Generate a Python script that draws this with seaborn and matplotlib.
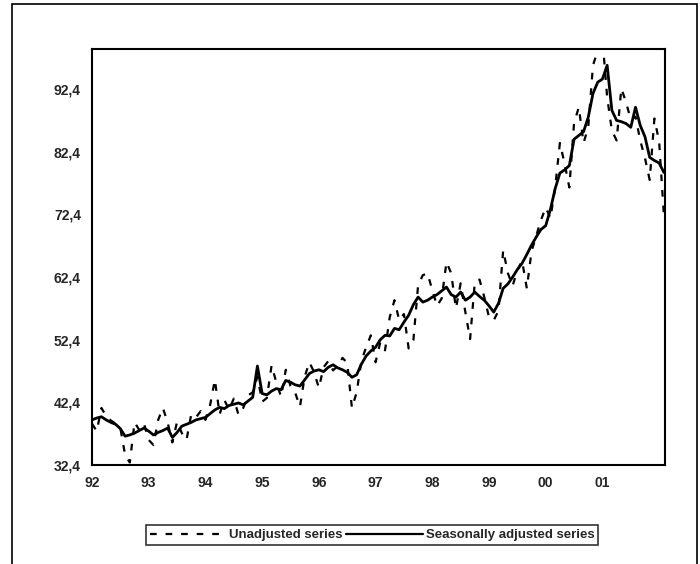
import numpy as np
import pandas as pd
import matplotlib
matplotlib.use("Agg")
import matplotlib.pyplot as plt
import seaborn as sns
from matplotlib.patches import Rectangle
from matplotlib.ticker import FuncFormatter

# monthly series, Jan 1992 - Feb 2002
adjusted = [
    39.6, 39.9, 40.1, 39.6, 39.2, 38.9, 38.2, 37.0, 37.2, 37.5, 37.9, 38.3,
    37.8, 37.2, 37.6, 37.9, 38.3, 36.8, 37.6, 38.6, 38.9, 39.2, 39.6, 39.8,
    40.0, 40.6, 41.2, 41.6, 41.4, 41.9, 42.1, 42.3, 42.0, 42.6, 43.2, 48.2,
    43.8, 43.6, 44.2, 44.6, 44.4, 45.9, 45.6, 45.2, 45.0, 46.0, 47.0, 47.4,
    47.6, 47.3, 48.0, 48.4, 47.9, 47.6, 47.2, 46.4, 46.8, 48.5, 49.8, 50.6,
    51.2, 52.4, 53.1, 53.0, 54.2, 54.0, 55.2, 56.3, 58.0, 59.2, 58.4, 58.7,
    59.2, 59.6, 60.2, 60.8, 59.6, 59.2, 60.0, 58.7, 59.2, 60.0, 59.3, 58.7,
    57.8, 56.8, 58.2, 60.6, 61.3, 62.4, 63.6, 64.6, 66.0, 67.5, 68.8, 70.0,
    70.6, 73.2, 76.5, 79.0, 79.5, 80.2, 84.4, 85.0, 85.6, 87.9, 91.7, 93.5,
    94.0, 96.2, 89.0, 87.4, 87.2, 86.9, 86.3, 89.5, 86.6, 84.8, 81.5, 81.0,
    80.6, 79.1,
]
unadjusted = [
    39.0, 37.8, 41.5, 40.2, 39.5, 39.0, 38.3, 34.0, 32.8, 39.2, 38.0, 39.0,
    36.4, 35.6, 39.6, 41.5, 39.2, 36.0, 39.3, 37.5, 36.4, 40.5, 40.0, 41.0,
    39.6, 42.0, 46.0, 40.5, 42.8, 41.2, 43.0, 40.4, 41.5, 43.5, 44.0, 46.5,
    42.5, 43.1, 48.3, 45.6, 43.3, 47.6, 45.0, 43.9, 41.7, 46.5, 48.8, 47.2,
    44.7, 48.0, 49.0, 47.5, 48.2, 49.5, 48.7, 41.5, 44.0, 49.0, 51.2, 53.1,
    48.8, 52.0, 50.7, 56.0, 58.7, 55.5, 56.5, 51.0, 52.3, 61.1, 62.7, 63.0,
    60.3, 57.8, 59.0, 64.8, 63.0, 57.4, 61.4, 56.8, 52.5, 61.6, 62.0, 59.2,
    56.0, 55.5, 57.0, 66.7, 63.0, 61.0, 63.5, 65.0, 60.6, 66.5, 69.0, 71.5,
    73.5, 71.8, 76.7, 83.8, 80.5, 76.7, 87.0, 89.5, 83.8, 86.3, 96.2, 98.5,
    100.5, 91.1, 85.8, 84.2, 92.5, 90.3, 87.5, 88.0, 84.2, 81.4, 77.9, 87.7,
    84.0, 72.3,
]
year_ticks = [1992, 1993, 1994, 1995, 1996, 1997, 1998, 1999, 2000, 2001]
year_labels = ["92", "93", "94", "95", "96", "97", "98", "99", "00", "01"]
y_ticks = [32.4, 42.4, 52.4, 62.4, 72.4, 82.4, 92.4]

years = 1992 + np.arange(len(adjusted)) / 12
df = pd.DataFrame({
    "year": np.concatenate([years, years]),
    "value": unadjusted + adjusted,
    "series": ["Unadjusted series"] * len(years) + ["Seasonally adjusted series"] * len(years),
})

sns.set_style("white")
plt.rcParams["font.family"] = ["Liberation Sans", "DejaVu Sans"]

fig = plt.figure(figsize=(7, 5.64), dpi=100)
ax = fig.add_axes([92 / 700, 1 - 465 / 564, (665 - 92) / 700, (465 - 49) / 564])

sns.lineplot(data=df, x="year", y="value", hue="series", style="series",
             palette=["black", "black"],
             dashes={"Unadjusted series": (3, 4), "Seasonally adjusted series": ""},
             size="series", sizes={"Unadjusted series": 1.6, "Seasonally adjusted series": 2.0},
             ax=ax, legend=False)

ax.set_xlim(1992, years[-1] + 0.02)
ax.set_ylim(32.4, 98.8)
ax.set_xticks(year_ticks)
ax.set_xticklabels(year_labels)
ax.set_yticks(y_ticks)
ax.yaxis.set_major_formatter(FuncFormatter(lambda v, p: f"{v:.1f}".replace(".", ",")))
ax.set_xlabel("")
ax.set_ylabel("")
for s in ax.spines.values():
    s.set_color("black")
    s.set_linewidth(1.5)
ax.tick_params(axis="both", direction="out", length=4, width=1, color="black",
               labelsize=10, pad=4)
for lab in ax.get_xticklabels() + ax.get_yticklabels():
    lab.set_fontweight("bold")

# legend
h1, = ax.plot([], [], color="black", lw=1.6, dashes=(3, 4))
h2, = ax.plot([], [], color="black", lw=1.6)
leg = fig.legend([h1, h2], ["Unadjusted series", "Seasonally adjusted series"],
                 loc="center", bbox_to_anchor=(372 / 700, 1 - 535 / 564), ncol=2,
                 frameon=True, fancybox=False, handlelength=5.8, columnspacing=0.3,
                 handletextpad=0.2, borderpad=0.3, prop={"size": 9.5, "weight": "bold"})
leg.get_frame().set_edgecolor("black")
leg.get_frame().set_linewidth(1.2)

# outer frame
fig.patches.append(Rectangle((12 / 700, -0.05), (697 - 12) / 700, 1.05 - 4 / 564,
                             transform=fig.transFigure, fill=False,
                             edgecolor="black", linewidth=1.2))

fig.savefig("out.png", dpi=100)
